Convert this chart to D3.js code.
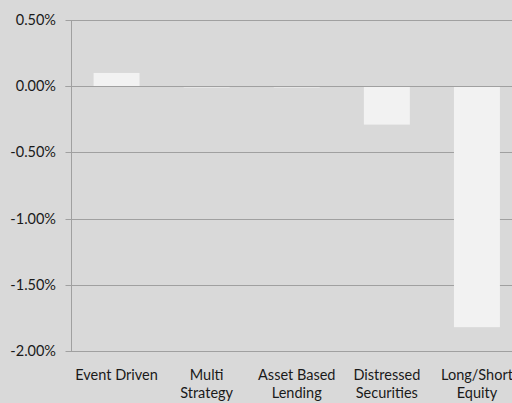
<!DOCTYPE html>
<html>
<head>
<meta charset="utf-8">
<script src="https://cdn.jsdelivr.net/npm/d3@7"></script>
<style>
  body { margin: 0; background: #d9d9d9; }
  svg { display: block; }
</style>
</head>
<body>
<svg id="chart"></svg>
<script>
// categories + values (percent)
const categories = [["Event Driven"], ["Multi", "Strategy"], ["Asset Based", "Lending"], ["Distressed", "Securities"], ["Long/Short", "Equity"]];
const values = [0.10, -0.01, -0.01, -0.29, -1.82];
const yTicks = [0.5, 0, -0.5, -1.0, -1.5, -2.0];

const W = 512, H = 403;
const margin = { top: 20, right: -10, bottom: 52, left: 71.5 };

const svg = d3.select("#chart")
    .attr("width", W)
    .attr("height", H)
    .style("font-family", "Lato, 'Open Sans', sans-serif");

svg.append("rect").attr("width", W).attr("height", H).attr("fill", "#d9d9d9");

const x = d3.scaleBand()
    .domain(d3.range(categories.length))
    .range([margin.left, W - margin.right])
    .paddingInner(0.49)
    .paddingOuter(0.245);

const y = d3.scaleLinear()
    .domain([-2.0, 0.5])
    .range([351, 20]);

// hyphen instead of unicode minus, like the original
const fmt = d => d3.format(".2f")(d).replace("\u2212", "-") + "%";

// gridlines
svg.append("g")
    .selectAll("line")
    .data(yTicks)
    .join("line")
    .attr("x1", margin.left - 6)
    .attr("x2", W)
    .attr("y1", d => Math.round(y(d)) + 0.5)
    .attr("y2", d => Math.round(y(d)) + 0.5)
    .attr("stroke", "#a0a0a0")
    .attr("stroke-width", 1);

// bars
svg.append("g")
    .selectAll("rect")
    .data(values)
    .join("rect")
    .attr("x", (d, i) => x(i))
    .attr("width", x.bandwidth())
    .attr("y", d => y(Math.max(0, d)))
    .attr("height", d => Math.max(1, Math.abs(y(d) - y(0))))
    .attr("fill", "#f2f2f2");

// zero line on top of bars
svg.append("line")
    .attr("x1", margin.left - 6).attr("x2", W)
    .attr("y1", Math.round(y(0)) + 0.5).attr("y2", Math.round(y(0)) + 0.5)
    .attr("stroke", "#a0a0a0");

// y axis line
svg.append("line")
    .attr("x1", margin.left).attr("x2", margin.left)
    .attr("y1", y(0.5)).attr("y2", y(-2.0))
    .attr("stroke", "#a0a0a0");

// y labels
svg.append("g")
    .selectAll("text")
    .data(yTicks)
    .join("text")
    .attr("x", 56)
    .attr("y", d => y(d))
    .attr("dy", "0.35em")
    .attr("text-anchor", "end")
    .attr("font-size", 14.5)
    .attr("fill", "#1a1a1a")
    .text(fmt);

// x labels
const xl = svg.append("g")
    .selectAll("text")
    .data(categories)
    .join("text")
    .attr("x", (d, i) => x(i) + x.bandwidth() / 2)
    .attr("y", 380)
    .attr("text-anchor", "middle")
    .attr("font-size", 14.5)
    .attr("fill", "#1a1a1a");

xl.selectAll("tspan")
    .data(d => d)
    .join("tspan")
    .attr("x", function () { return d3.select(this.parentNode).attr("x"); })
    .attr("dy", (d, i) => i === 0 ? 0 : 18)
    .text(d => d);
</script>
</body>
</html>
